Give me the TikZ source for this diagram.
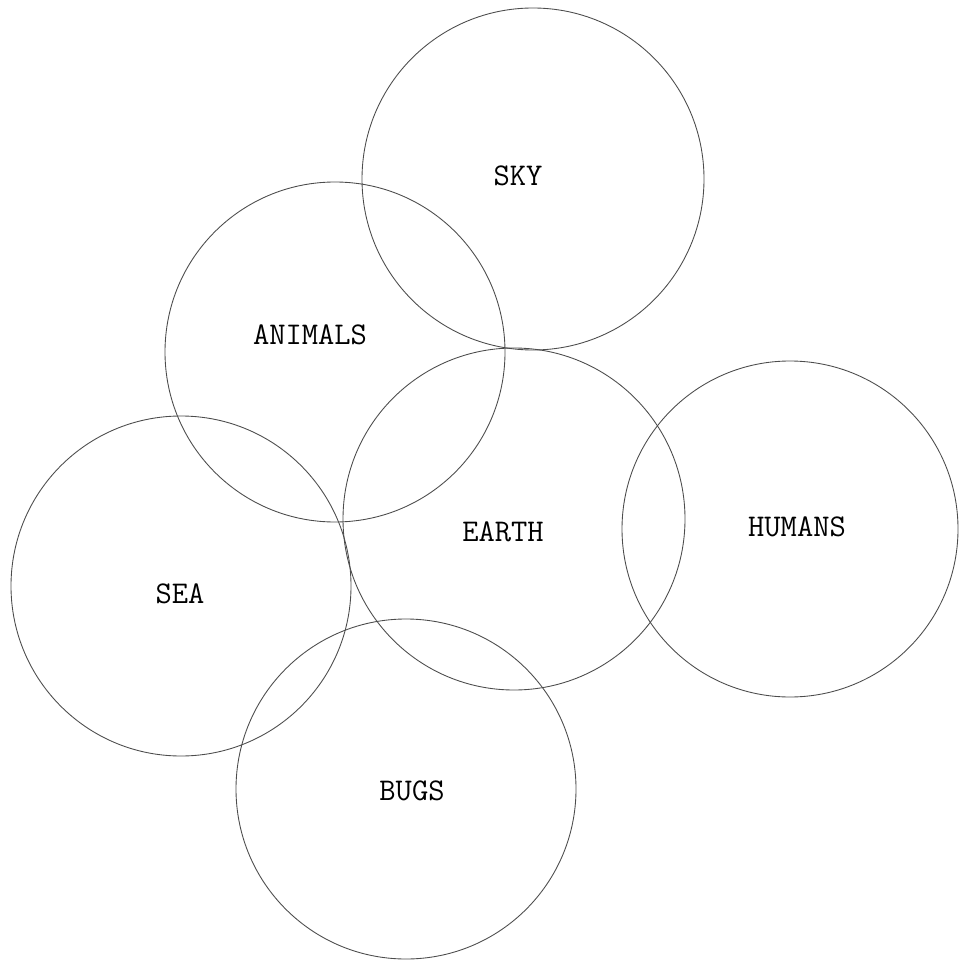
\documentclass[tikz,border=0pt]{standalone}
\usepackage{tikz}

\begin{document}
\begin{tikzpicture}[
  x=0.02cm, y=-0.02cm,
  ring/.style={draw=black!70, line width=0.5pt},
  lbl/.style={font=\ttfamily\fontsize{18}{20}\selectfont, inner sep=0pt}]
\useasboundingbox (0,0) rectangle (958,962);

% circles
\coordinate (skyc) at (533,179);
\coordinate (animalsc) at (335,352);
\coordinate (earthc) at (514,519);
\coordinate (humansc) at (790,529);
\coordinate (seac) at (181,586);
\coordinate (bugsc) at (406,789);
\draw[ring] (skyc) circle (171);
\draw[ring] (animalsc) circle (170);
\draw[ring] (earthc) circle (171);
\draw[ring] (humansc) circle (168);
\draw[ring] (seac) circle (170);
\draw[ring] (bugsc) circle (170);

% labels
\node[lbl] (sky) at (518,176) {SKY};
\node[lbl] (animals) at (310,335) {ANIMALS};
\node[lbl] (earth) at (503,532) {EARTH};
\node[lbl] (humans) at (797,527) {HUMANS};
\node[lbl] (sea) at (180,594) {SEA};
\node[lbl] (bugs) at (412,791) {BUGS};
\end{tikzpicture}
\end{document}
